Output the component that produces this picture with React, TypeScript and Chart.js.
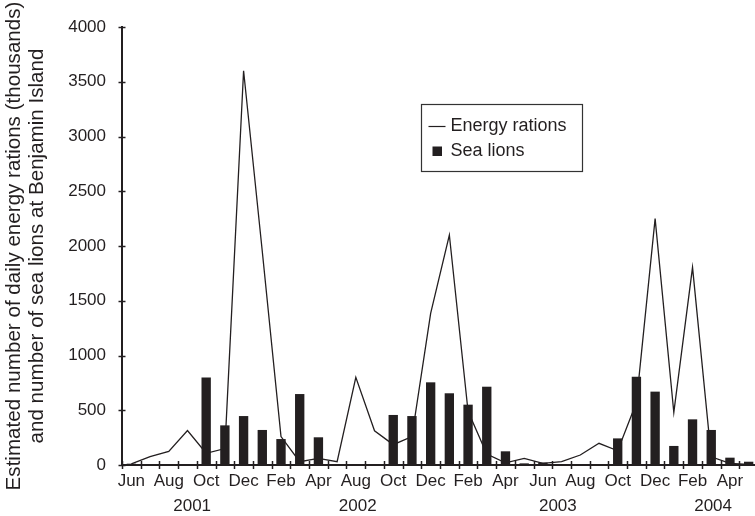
import React, { useEffect, useRef } from 'react';
import { Chart, registerables } from 'chart.js';

Chart.register(...registerables);

const categories = [
  'Jun 2001', 'Jul 2001', 'Aug 2001', 'Sep 2001', 'Oct 2001', 'Nov 2001', 'Dec 2001',
  'Jan 2002', 'Feb 2002', 'Mar 2002', 'Apr 2002', 'May 2002', 'Aug 2002', 'Sep 2002',
  'Oct 2002', 'Nov 2002', 'Dec 2002',
  'Jan 2003', 'Feb 2003', 'Mar 2003', 'Apr 2003', 'May 2003', 'Jun 2003', 'Jul 2003',
  'Aug 2003', 'Sep 2003', 'Oct 2003', 'Nov 2003', 'Dec 2003',
  'Jan 2004', 'Feb 2004', 'Mar 2004', 'Apr 2004', 'May 2004',
];

const tickLabels = [
  'Jun', '', 'Aug', '', 'Oct', '', 'Dec', '', 'Feb', '', 'Apr', '', 'Aug', '', 'Oct', '', 'Dec',
  '', 'Feb', '', 'Apr', '', 'Jun', '', 'Aug', '', 'Oct', '', 'Dec', '', 'Feb', '', 'Apr', '',
];

const yearLabels = ['2001', '2002', '2003', '2004'];
const yearAnchors = [3.25, 12.1, 22.8, 31.1];

const energyRations = [
  10, 76, 125, 315, 107, 150, 3600, 1950, 260, 30, 60, 30, 800, 313, 186, 259, 1385,
  2100, 490, 100, 20, 60, 15, 30, 91, 198, 130, 570, 2250, 480, 1805, 75, 15, 5,
];

const seaLions = [
  12, null, null, null, 800, 362, 447, 320, 237, 648, 253, null, null, null, 457, 447, 755,
  655, 551, 715, 125, 15, 22, null, null, null, 243, 807, 670, 174, 417, 320, 67, 30,
];

const yTicks = [0, 500, 1000, 1500, 2000, 2500, 3000, 3500, 4000];

const legendLabels = ['Energy rations', 'Sea lions'];

const INK = '#231f20';
const FONT = "'Liberation Sans', Arial, Helvetica, sans-serif";

const decorPlugin = {
  id: 'decor',
  afterDraw(chart: any) {
    const { ctx, chartArea, scales } = chart;
    const x = scales.x;
    const y = scales.y;
    ctx.save();
    ctx.strokeStyle = INK;
    ctx.lineWidth = 1.5;
    // y-axis crossing ticks
    yTicks.forEach((v) => {
      const py = Math.round(y.getPixelForValue(v)) + 0.5;
      ctx.beginPath();
      ctx.moveTo(chartArea.left - 3.5, py);
      ctx.lineTo(chartArea.left + 3.5, py);
      ctx.stroke();
    });
    // x-axis crossing ticks at category boundaries
    for (let i = 0; i <= categories.length; i++) {
      const px = Math.round(x.getPixelForValue(i - 0.5)) + 0.5;
      ctx.beginPath();
      ctx.moveTo(px, chartArea.bottom - 4);
      ctx.lineTo(px, chartArea.bottom + 4);
      ctx.stroke();
    }
    // year labels
    ctx.fillStyle = INK;
    ctx.font = `17px ${FONT}`;
    ctx.textAlign = 'center';
    ctx.textBaseline = 'middle';
    yearLabels.forEach((t, i) => {
      ctx.fillText(t, x.getPixelForValue(yearAnchors[i]), chartArea.bottom + 41);
    });
    // legend box
    const lx = 421.5;
    const ly = 104.5;
    ctx.lineWidth = 1.2;
    ctx.strokeStyle = '#333';
    ctx.strokeRect(lx, ly, 161, 67);
    ctx.strokeStyle = INK;
    ctx.lineWidth = 1.2;
    ctx.beginPath();
    ctx.moveTo(lx + 7, ly + 22);
    ctx.lineTo(lx + 24, ly + 22);
    ctx.stroke();
    ctx.fillRect(lx + 11, ly + 42, 9.5, 9.5);
    ctx.textAlign = 'left';
    ctx.font = `18px ${FONT}`;
    ctx.fillText(legendLabels[0], lx + 29, ly + 22);
    ctx.fillText(legendLabels[1], lx + 29, ly + 47);
    ctx.restore();
  },
};

export default function App() {
  const ref = useRef<HTMLCanvasElement | null>(null);

  useEffect(() => {
    if (!ref.current) return;
    Chart.defaults.font.family = FONT;
    Chart.defaults.font.size = 17;
    Chart.defaults.color = INK;
    const chart = new Chart(ref.current, {
      type: 'bar',
      data: {
        labels: categories,
        datasets: [
          {
            type: 'line',
            label: legendLabels[0],
            data: energyRations,
            borderColor: INK,
            borderWidth: 1.3,
            pointRadius: 0,
            tension: 0,
            fill: false,
            order: 2,
          } as any,
          {
            type: 'bar',
            label: legendLabels[1],
            data: seaLions,
            backgroundColor: INK,
            borderWidth: 0,
            barPercentage: 0.5,
            categoryPercentage: 1,
            order: 1,
          },
        ],
      },
      options: {
        responsive: false,
        animation: false,
        layout: { padding: { top: 27, left: 0, right: 0, bottom: 0 } },
        plugins: {
          legend: { display: false },
          tooltip: { enabled: false },
        },
        scales: {
          x: {
            offset: true,
            grid: { display: false, drawTicks: false },
            border: { display: true, color: INK, width: 2 },
            ticks: {
              autoSkip: false,
              maxRotation: 0,
              padding: 6,
              font: { size: 17 },
              color: INK,
              callback: (_v: any, i: number) => tickLabels[i],
            },
            afterFit: (s: any) => {
              s.height = 51;
            },
          },
          y: {
            min: 0,
            max: 4000,
            grid: { display: false, drawTicks: false },
            border: { display: true, color: INK, width: 2 },
            ticks: {
              stepSize: 500,
              padding: 16,
              font: { size: 17 },
              color: INK,
              callback: (v: any) => String(v),
            },
            title: {
              display: true,
              text: [
                'Estimated number of daily energy rations (thousands)',
                'and number of sea lions at Benjamin Island',
              ],
              font: { size: 20.6, lineHeight: 1.12 },
              color: INK,
              padding: { top: 2.5, bottom: 0 },
            },
            afterFit: (s: any) => {
              s.width = 122;
            },
          },
        },
      },
      plugins: [decorPlugin],
    });
    return () => chart.destroy();
  }, []);

  return (
    <div
      style={{
        position: 'fixed',
        left: 0,
        top: 0,
        width: 755,
        height: 516,
        overflow: 'hidden',
        background: '#fff',
      }}
    >
      <canvas ref={ref} width={758} height={516} style={{ display: 'block' }} />
    </div>
  );
}
